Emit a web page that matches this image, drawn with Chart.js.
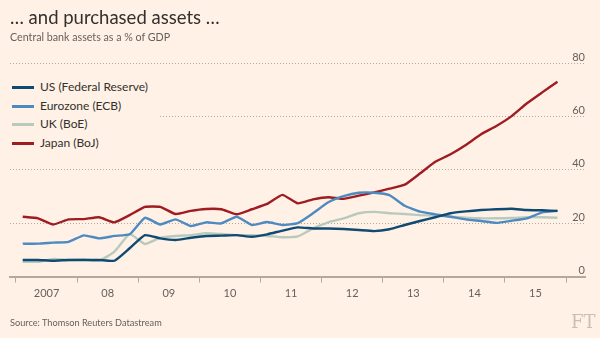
<!DOCTYPE html>
<html>
<head>
<meta charset="utf-8">
<script src="https://cdn.jsdelivr.net/npm/chart.js@4.4.1/dist/chart.umd.min.js"></script>
<style>
  body { margin: 0; background: #fff1e5; }
  #wrap { position: relative; width: 600px; height: 338px; font-family: Lato, "Noto Sans", sans-serif; color: #33302e; overflow: hidden; }
  #box { position: absolute; left: 0; top: 0; width: 600px; height: 338px; }
  .title { position: absolute; left: 10px; top: 6px; font-size: 18.5px; white-space: nowrap; }
  .sub { position: absolute; left: 10px; top: 30px; font-size: 10.7px; color: #66605c; white-space: nowrap; }
  .source { position: absolute; left: 10px; top: 317px; font-size: 9.2px; color: #66605c; white-space: nowrap; }
  .ft { position: absolute; left: 571px; top: 311px; font-family: "DejaVu Serif", "Liberation Serif", serif; font-size: 18px; color: #cdbfb0; }
  #legend { position: absolute; left: 6px; top: 76px; width: 152px; height: 76px; background: #fff1e5; }
  .item { position: absolute; left: 6px; height: 14px; font-size: 12px; line-height: 14px; white-space: nowrap; }
  .item i { position: absolute; left: 0; top: 6px; width: 22px; height: 3px; }
  .item span { position: absolute; left: 28px; top: 0; }
</style>
</head>
<body>
<div id="wrap">
  <div id="box"><canvas id="chart"></canvas></div>
  <div class="title">… and purchased assets …</div>
  <div class="sub">Central bank assets as a % of GDP</div>
  <div id="legend"></div>
  <div class="source">Source: Thomson Reuters Datastream</div>
  <div class="ft">FT</div>
</div>
<script>
var quarters = [
  '2007 Q1', '2007 Q2', '2007 Q3', '2007 Q4', '2008 Q1', '2008 Q2', '2008 Q3', '2008 Q4',
  '2009 Q1', '2009 Q2', '2009 Q3', '2009 Q4', '2010 Q1', '2010 Q2', '2010 Q3', '2010 Q4',
  '2011 Q1', '2011 Q2', '2011 Q3', '2011 Q4', '2012 Q1', '2012 Q2', '2012 Q3', '2012 Q4',
  '2013 Q1', '2013 Q2', '2013 Q3', '2013 Q4', '2014 Q1', '2014 Q2', '2014 Q3', '2014 Q4',
  '2015 Q1', '2015 Q2', '2015 Q3', '2015 Q4'
];
var seriesNames = ['US (Federal Reserve)', 'Eurozone (ECB)', 'UK (BoE)', 'Japan (BoJ)'];
var us = [6.2, 6.2, 5.9, 6.2, 6.2, 6.2, 5.9, 10.6, 15.5, 14.3, 13.7, 14.5, 15.2, 15.3, 15.5, 14.9, 15.8, 17.2,
  18.4, 18.0, 18.0, 17.8, 17.4, 17.0, 17.7, 19.3, 20.8, 22.2, 23.7, 24.4, 24.9, 25.2, 25.4, 24.9, 24.8, 24.6];
var ecb = [12.3, 12.3, 12.7, 13.0, 15.4, 14.3, 15.2, 15.8, 22.0, 19.5, 21.4, 18.9, 20.3, 19.9, 22.4, 19.3, 20.4, 19.3,
  20.0, 23.7, 27.8, 30.1, 31.4, 31.4, 30.5, 26.5, 24.3, 23.3, 22.4, 21.4, 20.8, 20.1, 20.9, 21.8, 24.0, 24.6];
var uk = [5.5, 5.5, 6.6, 6.2, 6.4, 5.9, 9.3, 15.9, 12.2, 14.5, 15.2, 15.5, 16.2, 15.9, 15.5, 15.5, 15.2, 14.7,
  15.0, 18.0, 20.3, 21.8, 23.7, 24.2, 23.7, 23.4, 23.0, 22.8, 22.4, 22.0, 21.8, 21.8, 21.9, 22.2, 22.2, 22.0];
var japan = [22.4, 21.8, 19.5, 21.4, 21.5, 22.2, 20.3, 23.0, 26.1, 26.1, 23.4, 24.6, 25.3, 25.2, 23.3, 25.2, 27.2, 30.6,
  27.4, 28.9, 29.7, 29.1, 30.3, 31.5, 32.9, 34.4, 38.6, 43.0, 45.8, 49.3, 53.3, 56.4, 60.1, 64.9, 69.0, 73.0];
var yearLabels = ['2007', '08', '09', '10', '11', '12', '13', '14', '15'];
var yTicks = [0, 20, 40, 60, 80];
var colors = ['#0f4a73', '#4d8ac1', '#b8cabe', '#9e1c22'];

// quarter label -> position on the year axis
function qx(q) {
  var p = q.split(' Q');
  return +p[0] + (p[1] - 1) * 0.25 + 0.11;
}
function pts(vals) {
  return vals.map(function (v, i) { return { x: qx(quarters[i]), y: v }; });
}

var datasets = [us, ecb, uk, japan].map(function (vals, i) {
  return {
    label: seriesNames[i],
    data: pts(vals),
    borderColor: colors[i],
    borderWidth: 2.4,
    pointRadius: 0,
    tension: 0.15,
    fill: false
  };
});

// legend
var lg = document.getElementById('legend');
seriesNames.forEach(function (n, i) {
  var d = document.createElement('div');
  d.className = 'item';
  d.style.top = (4 + i * 18.7) + 'px';
  d.innerHTML = '<i style="background:' + colors[i] + '"></i><span>' + n + '</span>';
  lg.appendChild(d);
});

var firstYear = +yearLabels[0];

new Chart(document.getElementById('chart'), {
  type: 'line',
  data: { datasets: datasets },
  options: {
    responsive: true,
    maintainAspectRatio: false,
    animation: false,
    layout: { padding: { left: 10, right: 15, top: 63, bottom: 0 } },
    plugins: { legend: { display: false }, tooltip: { enabled: false } },
    scales: {
      x: {
        type: 'linear',
        min: 2006.902,
        max: 2016.31,
        afterFit: function (s) { s.height = 61.5; },
        afterBuildTicks: function (s) {
          var t = [];
          for (var k = 0; k <= yearLabels.length; k++) {
            t.push({ value: firstYear + k });
            if (k < yearLabels.length) t.push({ value: firstYear + k + 0.5 });
          }
          s.ticks = t;
        },
        grid: {
          drawOnChartArea: false,
          drawTicks: true,
          tickLength: 6,
          tickWidth: 1,
          tickColor: function (c) {
            return c.tick && c.tick.value % 1 !== 0 ? 'rgba(0,0,0,0)' : '#b3aa9e';
          }
        },
        border: { display: true, color: '#b3aa9e', width: 2 },
        ticks: {
          autoSkip: false,
          maxRotation: 0,
          padding: 4,
          color: '#66605c',
          font: { family: 'Lato, "Noto Sans", sans-serif', size: 11 },
          callback: function (v) {
            if (v % 1 === 0) return '';
            return yearLabels[Math.floor(v) - firstYear];
          }
        }
      },
      y: {
        position: 'right',
        min: 0,
        max: 80,
        afterFit: function (s) { s.width = 0; },
        afterBuildTicks: function (s) {
          s.ticks = yTicks.map(function (v) { return { value: v }; });
        },
        grid: {
          drawTicks: false,
          lineWidth: 1,
          color: function (c) {
            return c.tick && c.tick.value === 0 ? 'rgba(0,0,0,0)' : '#b4a99c';
          }
        },
        border: { display: false, dash: [1, 2] },
        ticks: {
          mirror: true,
          padding: 0,
          labelOffset: -6,
          color: '#66605c',
          font: { family: 'Lato, "Noto Sans", sans-serif', size: 11 }
        }
      }
    }
  }
});
</script>
</body>
</html>
